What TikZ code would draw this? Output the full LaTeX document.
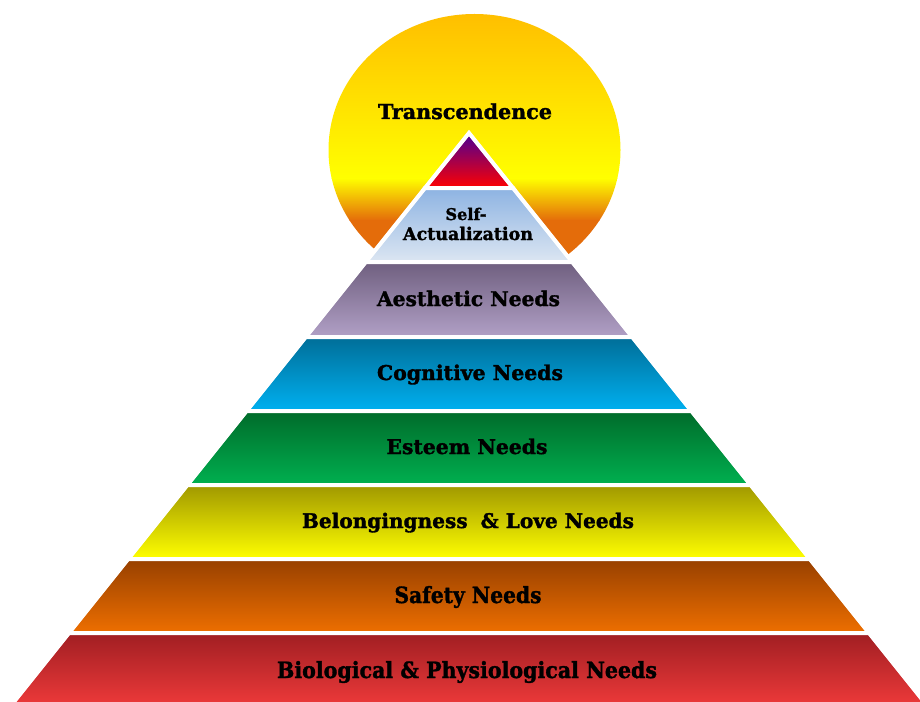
\documentclass[tikz,border=0pt]{standalone}
\usepackage{fontspec}
\setmainfont{DejaVu Serif}[BoldFeatures={FakeBold=1.6}]
\usepackage{graphicx}
\definecolor{sunA}{HTML}{FFBF00}
\definecolor{sunM}{HTML}{FFDD00}
\definecolor{sunB}{HTML}{FFFF00}
\definecolor{sunC}{HTML}{E46C0A}
\definecolor{apxT}{HTML}{4B0096}
\definecolor{apxM}{HTML}{A0006E}
\definecolor{apxB}{HTML}{FF0000}
\definecolor{selfT}{HTML}{8DB3E2}
\definecolor{selfB}{HTML}{DCE6F2}
\definecolor{aesT}{HTML}{6F5F7F}
\definecolor{aesB}{HTML}{B1A0C6}
\definecolor{cogT}{HTML}{006E98}
\definecolor{cogB}{HTML}{00B0F0}
\definecolor{estT}{HTML}{006B2A}
\definecolor{estB}{HTML}{00B050}
\definecolor{belT}{HTML}{A09800}
\definecolor{belB}{HTML}{FFFF00}
\definecolor{safT}{HTML}{974000}
\definecolor{safB}{HTML}{EE6F00}
\definecolor{bioT}{HTML}{A01E22}
\definecolor{bioB}{HTML}{F43C3C}
\newcommand\pyrband[4]{%
  \shadedraw[top color=#3,bottom color=#4,draw=white,line width=4bp]
   ({469-0.8*(#1-133)},#1) -- ({469+0.8*(#1-133)},#1) --
   ({469+0.8*(#2-133)},#2) -- ({469-0.8*(#2-133)},#2) -- cycle;}
\tikzset{lbl/.style={font=\bfseries,text=black,inner sep=0pt,anchor=base}}
\begin{document}
\begin{tikzpicture}[x=1bp,y=-1bp]
\useasboundingbox (0,0) rectangle (920,702);
\clip (0,0) rectangle (920,702);
% sun
\begin{scope}
\clip (474.5,150) ellipse[x radius=146bp,y radius=136bp];
\shade[top color=sunA,middle color=sunM,bottom color=sunB] (320,14) rectangle (630,178.5);
\shade[top color=sunB,bottom color=sunC] (320,178) rectangle (630,220.5);
\fill[sunC] (320,220) rectangle (630,300);
\end{scope}
% apex
\shadedraw[top color=apxT,middle color=apxM,bottom color=apxB,draw=white,line width=4bp]
  (469,133) -- ({469+0.8*55},188) -- ({469-0.8*55},188) -- cycle;
\pyrband{188}{262}{selfT}{selfB}
\pyrband{262}{337}{aesT}{aesB}
\pyrband{337}{411}{cogT}{cogB}
\pyrband{411}{485}{estT}{estB}
\pyrband{485}{559}{belT}{belB}
\pyrband{559}{633}{safT}{safB}
\pyrband{633}{712}{bioT}{bioB}
% labels
\node[lbl] (trans) at (465,119) {\resizebox{174bp}{!}{Transcendence}};
\node[lbl] (selfa) at (466,220) {\resizebox{41bp}{!}{Self-}};
\node[lbl] (selfb) at (468,240) {\resizebox{130bp}{!}{Actualization}};
\node[lbl] (aes) at (468.5,306) {\resizebox{183bp}{!}{Aesthetic Needs}};
\node[lbl] (cog) at (470,380) {\resizebox{186bp}{!}{Cognitive Needs}};
\node[lbl] (est) at (467,454) {\resizebox{161bp}{!}{Esteem Needs}};
\node[lbl] (bel) at (468,528) {\resizebox{332bp}{!}{Belongingness\hspace{0.3em} \& Love Needs}};
\node[lbl] (saf) at (468,603) {\resizebox{147bp}{17bp}{Safety Needs}};
\node[lbl] (bio) at (467,678) {\resizebox{380bp}{17bp}{Biological \& Physiological Needs}};
\end{tikzpicture}
\end{document}
